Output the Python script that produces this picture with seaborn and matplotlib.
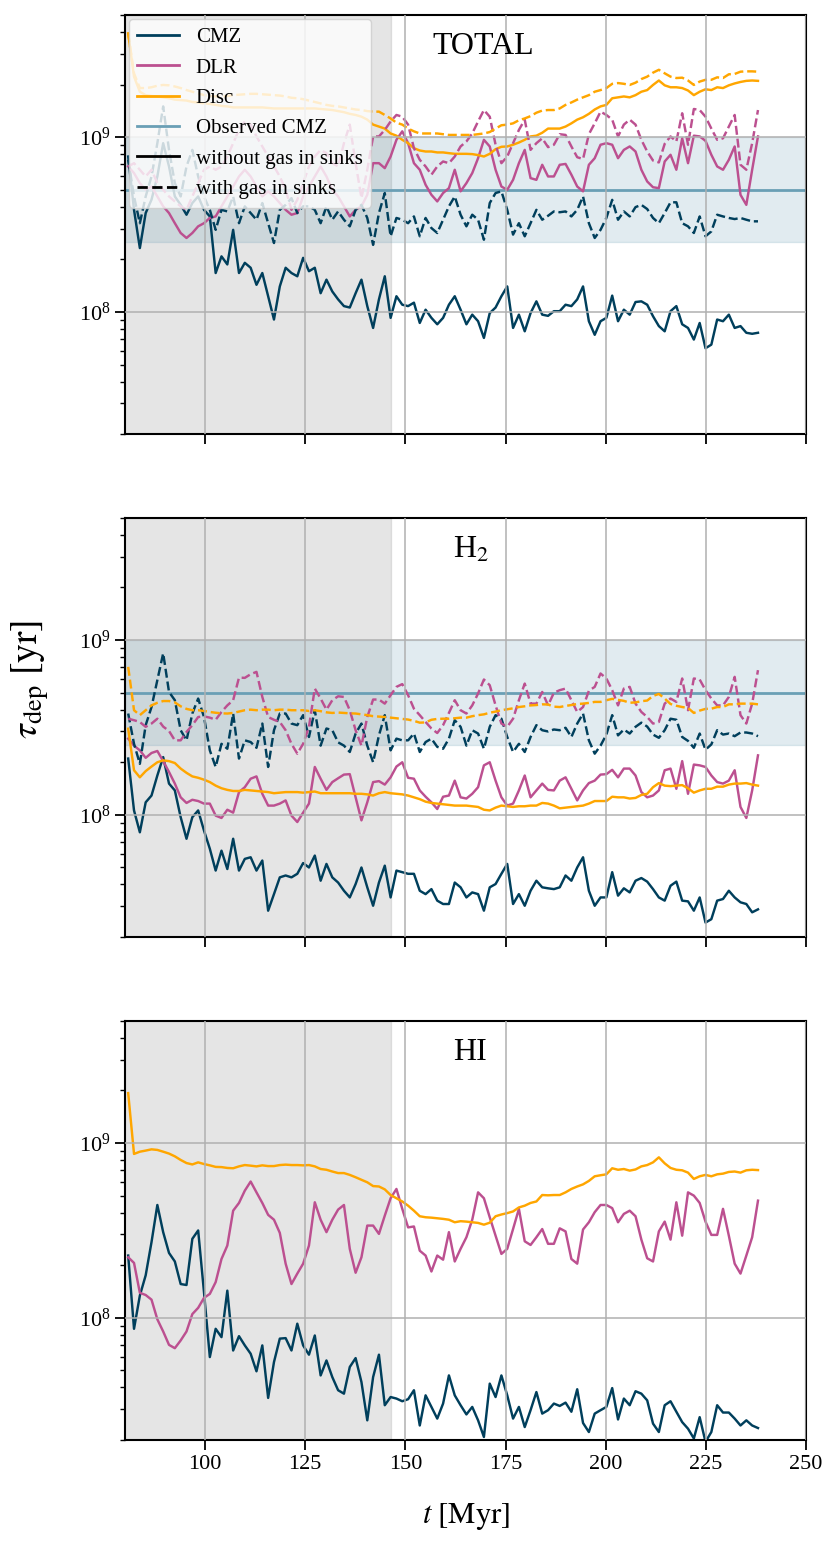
import numpy as np
import matplotlib
matplotlib.use("Agg")
import matplotlib.pyplot as plt
from matplotlib.lines import Line2D
import seaborn as sns

plt.rcParams["font.family"] = ["Liberation Serif", "DejaVu Serif"]
plt.rcParams["mathtext.fontset"] = "stix"

# snapshot times [Myr]
t = np.linspace(80.8, 238.0, 109)

# depletion times, in units of 1e8 yr
# TOTAL
tot_cmz = [7.75, 3.84, 2.32, 3.68, 4.39, 5.96, 9.24, 6.8, 4.58, 4.1,
           3.6, 4.2, 4.58, 3.84, 3.52, 1.67, 2.08, 1.87, 2.95, 1.67,
           1.91, 1.79, 1.43, 1.67, 1.23, 0.905, 1.40, 1.79, 1.67, 1.60,
           2.04, 1.71, 1.79, 1.28, 1.53, 1.31, 1.18, 1.08, 1.06, 1.28,
           1.53, 1.08, 0.81, 1.18, 1.60, 0.925, 1.23, 1.10, 1.08, 1.13,
           0.865, 1.03, 0.925, 0.85, 0.925, 1.10, 1.23, 1.03, 0.85, 0.965,
           0.885, 0.71, 0.985, 1.06, 1.23, 1.40, 0.81, 0.965, 0.775, 0.985,
           1.15, 0.965, 0.95, 1.01, 1.01, 1.10, 1.08, 1.18, 1.40, 0.885,
           0.74, 0.885, 0.925, 1.24, 0.885, 1.03, 0.965, 1.14, 1.15, 1.10,
           0.945, 0.83, 0.775, 1.01, 1.08, 0.85, 0.81, 0.695, 0.865, 0.62,
           0.65, 0.905, 0.885, 0.965, 0.81, 0.83, 0.76, 0.75, 0.76]
tot_cmz_sink = [7.42, 4.58, 3.22, 4.58, 5.96, 9.24, 15.0, 8.46, 5.46, 4.58,
                6.8, 8.46, 5.96, 4.58, 3.84, 2.95, 3.84, 3.76, 4.58, 3.22,
                4.02, 3.68, 3.37, 4.2, 3.22, 2.48, 3.84, 4.1, 4.48, 3.68,
                4.02, 4.02, 3.84, 3.22, 4.02, 3.37, 3.76, 3.37, 3.09, 3.84,
                4.1, 3.45, 2.42, 3.68, 4.79, 2.71, 3.45, 3.37, 3.22, 3.52,
                2.71, 3.45, 3.02, 2.83, 3.37, 4.02, 4.58, 3.6, 3.09, 3.6,
                3.37, 2.59, 4.2, 4.79, 4.9, 3.84, 2.77, 3.22, 2.71, 3.22,
                3.84, 3.37, 3.55, 3.76, 3.72, 3.76, 3.52, 3.84, 4.58, 3.22,
                2.65, 2.95, 3.45, 4.38, 3.37, 3.76, 3.52, 3.98, 4.1, 3.88,
                3.45, 3.22, 3.68, 4.24, 4.24, 3.22, 3.09, 2.83, 3.52, 2.71,
                2.89, 3.6, 3.52, 3.45, 3.4, 3.45, 3.37, 3.3, 3.3]
tot_dlr = [6.8, 6.23, 5.46, 5.0, 5.22, 4.58, 4.02, 3.68, 3.22, 2.83,
           2.65, 2.83, 3.09, 3.22, 3.45, 3.52, 4.02, 4.58, 5.22, 5.96,
           6.51, 5.96, 5.22, 4.58, 4.9, 4.58, 4.2, 3.84, 3.6, 3.68,
           4.58, 5.22, 5.96, 6.8, 5.96, 5.0, 4.58, 4.02, 3.52, 3.84,
           4.02, 4.68, 7.1, 7.1, 6.65, 7.75, 9.66, 10.8, 9.24, 7.1,
           6.51, 5.34, 4.68, 4.29, 4.79, 5.11, 6.51, 4.9, 5.46, 6.23,
           7.58, 9.66, 8.85, 6.51, 5.22, 5.0, 5.7, 7.1, 8.46, 5.83,
           5.7, 6.95, 5.96, 5.96, 6.95, 7.03, 6.1, 5.22, 4.9, 6.95,
           7.58, 9.05, 9.24, 9.05, 7.58, 8.46, 8.85, 8.28, 6.51, 5.58,
           5.17, 5.11, 7.26, 7.93, 6.51, 9.85, 7.1, 10.2, 10.1, 9.53,
           7.93, 6.8, 6.51, 7.42, 8.85, 4.68, 4.1, 6.51, 10.1]
tot_dlr_sink = [6.8, 7.1, 6.51, 5.96, 6.51, 5.46, 5.0, 4.58, 4.29, 4.02,
                3.84, 4.58, 5.46, 6.51, 6.8, 6.51, 6.8, 7.75, 9.24, 11.0,
                12.3, 11.8, 10.1, 8.85, 7.75, 6.8, 5.96, 5.0, 3.84, 4.38,
                5.46, 6.8, 7.75, 8.46, 8.1, 7.1, 6.8, 9.24, 11.8, 7.1,
                4.48, 6.51, 10.1, 10.1, 11.0, 12.3, 13.4, 13.1, 11.8, 8.65,
                7.42, 6.8, 6.1, 6.8, 7.26, 7.1, 7.75, 8.85, 9.45, 10.5,
                12.3, 14.3, 13.1, 9.05, 7.1, 7.75, 9.24, 11.0, 12.6, 8.46,
                9.24, 9.85, 8.77, 9.05, 10.4, 10.3, 8.85, 7.68, 7.5, 10.4,
                12.0, 14.0, 13.4, 12.6, 10.1, 11.8, 12.6, 11.8, 9.66, 8.28,
                7.35, 7.17, 9.16, 10.1, 9.45, 13.7, 9.05, 14.5, 14.3, 13.1,
                11.2, 9.66, 9.85, 11.5, 13.4, 6.95, 6.51, 9.24, 14.3]
tot_disc = [39.3, 22.2, 18.2, 17.4, 17.2, 17.1, 16.9, 16.7, 16.4, 16.3,
            16.2, 15.9, 15.8, 15.6, 15.5, 15.3, 15.1, 15.0, 14.8, 14.8,
            14.8, 14.8, 14.8, 14.8, 14.7, 14.6, 14.6, 14.6, 14.6, 14.6,
            14.6, 14.6, 14.6, 14.5, 14.4, 14.3, 14.1, 13.9, 13.6, 13.4,
            13.1, 12.6, 11.8, 11.5, 11.2, 10.5, 10.2, 9.66, 9.24, 8.65,
            8.39, 8.28, 8.28, 8.18, 8.18, 8.1, 8.03, 8.03, 8.03, 8.0,
            7.9, 7.75, 8.03, 8.54, 8.81, 8.85, 9.05, 9.32, 9.66, 10.1,
            10.2, 10.6, 11.2, 11.2, 11.2, 11.5, 12.0, 12.6, 13.0, 13.6,
            14.4, 15.0, 15.3, 16.7, 16.9, 17.1, 16.9, 17.4, 18.2, 18.6,
            19.9, 21.1, 19.8, 19.3, 19.3, 19.1, 18.5, 17.4, 18.2, 18.8,
            18.6, 19.3, 19.1, 19.8, 20.3, 20.7, 21.0, 21.1, 21.0]
tot_disc_sink = [39.3, 23.2, 19.1, 19.1, 19.3, 19.7, 19.9, 19.8, 19.5, 19.1,
                 18.6, 18.2, 17.8, 17.4, 17.2, 17.1, 17.1, 17.2, 17.4, 17.5,
                 17.6, 17.7, 17.7, 17.6, 17.5, 17.4, 17.3, 17.1, 16.8, 16.7,
                 16.5, 16.2, 15.9, 15.6, 15.3, 15.1, 15.0, 14.8, 14.6, 14.4,
                 14.3, 14.1, 14.0, 14.0, 13.4, 12.8, 12.1, 11.8, 11.2, 10.8,
                 10.5, 10.5, 10.5, 10.5, 10.4, 10.3, 10.3, 10.3, 10.3, 10.3,
                 10.4, 10.5, 10.7, 11.2, 11.7, 11.8, 12.0, 12.5, 12.8, 13.2,
                 13.8, 14.2, 14.3, 14.3, 14.6, 15.3, 15.8, 16.4, 16.9, 17.4,
                 18.2, 18.6, 19.1, 20.2, 20.4, 20.2, 19.9, 20.5, 21.5, 22.2,
                 23.4, 24.3, 23.2, 22.2, 21.8, 21.9, 21.1, 19.9, 20.8, 21.3,
                 21.3, 22.0, 21.8, 22.9, 23.0, 23.7, 23.8, 23.8, 23.7]

# H2
h2_cmz = [2.10, 1.06, 0.795, 1.18, 1.29, 1.68, 2.14, 1.51, 1.38, 0.97,
          0.73, 0.97, 1.06, 0.813, 0.64, 0.48, 0.624, 0.49, 0.73, 0.48,
          0.56, 0.572, 0.48, 0.548, 0.283, 0.352, 0.439, 0.45, 0.439, 0.46,
          0.53, 0.5, 0.585, 0.42, 0.524, 0.439, 0.41, 0.368, 0.337, 0.402,
          0.50, 0.385, 0.302, 0.41, 0.512, 0.337, 0.48, 0.47, 0.46, 0.46,
          0.368, 0.352, 0.376, 0.323, 0.309, 0.309, 0.41, 0.385, 0.337, 0.36,
          0.352, 0.283, 0.385, 0.402, 0.46, 0.524, 0.309, 0.352, 0.302, 0.368,
          0.42, 0.385, 0.38, 0.376, 0.385, 0.45, 0.42, 0.50, 0.572, 0.368,
          0.302, 0.337, 0.337, 0.47, 0.345, 0.38, 0.36, 0.42, 0.435, 0.415,
          0.376, 0.337, 0.323, 0.393, 0.415, 0.323, 0.32, 0.283, 0.337, 0.242,
          0.253, 0.323, 0.33, 0.368, 0.337, 0.316, 0.309, 0.277, 0.288]
h2_cmz_sink = [3.80, 2.55, 1.96, 3.26, 4.14, 5.9, 8.4, 5.05, 4.53, 3.05,
               2.67, 3.80, 4.63, 3.63, 2.34, 1.88, 2.55, 2.39, 3.80, 2.10,
               2.67, 2.61, 2.42, 3.33, 1.88, 3.05, 3.80, 3.80, 3.33, 3.26,
               3.72, 2.79, 3.97, 2.49, 3.12, 3.05, 2.6, 2.49, 2.29, 2.92,
               3.33, 2.49, 2.0, 2.85, 3.72, 2.34, 2.73, 2.67, 2.67, 2.92,
               2.29, 2.61, 2.73, 2.45, 2.39, 2.73, 3.48, 3.19, 2.49, 3.05,
               2.92, 2.39, 3.19, 3.72, 3.55, 2.79, 2.29, 2.55, 2.29, 2.79,
               3.26, 3.05, 3.0, 3.08, 3.05, 3.15, 2.79, 3.33, 3.80, 2.67,
               2.24, 2.49, 2.88, 3.72, 2.85, 3.08, 2.92, 3.19, 3.37, 3.2,
               2.88, 2.76, 3.05, 3.55, 3.5, 2.79, 2.65, 2.42, 2.92, 2.36,
               2.53, 3.05, 2.88, 2.92, 2.82, 2.96, 2.96, 2.92, 2.82]
h2_dlr = [2.73, 2.49, 2.34, 2.12, 2.26, 2.32, 2.03, 1.76, 1.51, 1.26,
          1.17, 1.22, 1.20, 1.16, 1.16, 0.99, 0.96, 1.07, 1.03, 1.35,
          1.44, 1.61, 1.66, 1.32, 1.13, 1.13, 1.16, 1.21, 0.99, 0.91,
          1.03, 1.16, 1.88, 1.61, 1.39, 1.54, 1.62, 1.70, 1.71, 1.26,
          0.93, 1.18, 1.54, 1.56, 1.49, 1.64, 1.89, 2.0, 1.63, 1.61,
          1.38, 1.27, 1.18, 1.08, 1.27, 1.29, 1.57, 1.26, 1.24, 1.32,
          1.44, 1.92, 2.0, 1.57, 1.26, 1.13, 1.16, 1.38, 1.68, 1.26,
          1.38, 1.51, 1.39, 1.38, 1.57, 1.64, 1.41, 1.21, 1.38, 1.52,
          1.57, 1.70, 1.71, 1.81, 1.64, 1.84, 1.84, 1.68, 1.35, 1.26,
          1.29, 1.38, 1.80, 1.84, 1.41, 2.03, 1.32, 1.94, 1.92, 1.88,
          1.68, 1.54, 1.51, 1.57, 1.80, 1.11, 0.96, 1.38, 2.19]
h2_dlr_sink = [3.55, 3.48, 3.40, 3.19, 3.33, 3.55, 3.2, 3.02, 2.67, 2.67,
               2.98, 3.26, 3.63, 3.66, 3.6, 3.5, 3.88, 4.23, 4.53, 6.1,
               6.08, 6.38, 6.58, 4.73, 3.63, 3.5, 3.40, 3.05, 2.55, 2.24,
               2.55, 3.19, 5.28, 4.63, 4.0, 4.53, 4.77, 4.73, 3.97, 3.05,
               2.49, 3.63, 4.57, 4.57, 4.33, 4.84, 5.4, 5.6, 4.84, 4.05,
               3.72, 3.40, 3.12, 2.94, 3.26, 3.83, 4.53, 3.97, 3.80, 4.23,
               4.95, 5.95, 5.52, 4.23, 3.33, 3.19, 3.55, 4.53, 5.64, 4.33,
               4.33, 5.05, 4.23, 5.0, 5.17, 5.28, 4.53, 3.88, 4.14, 5.13,
               5.4, 6.44, 6.03, 5.17, 4.23, 5.28, 5.4, 4.33, 3.88, 3.63,
               3.33, 3.40, 4.33, 4.63, 4.43, 6.03, 3.97, 6.03, 5.95, 5.17,
               4.63, 4.23, 4.23, 4.73, 6.16, 3.72, 3.33, 4.33, 6.73]
h2_disc = [3.11, 1.80, 1.64, 1.78, 1.89, 2.0, 2.05, 2.03, 1.98, 1.84,
           1.74, 1.66, 1.63, 1.59, 1.54, 1.47, 1.42, 1.39, 1.37, 1.37,
           1.39, 1.38, 1.37, 1.36, 1.35, 1.33, 1.34, 1.35, 1.35, 1.35,
           1.34, 1.35, 1.36, 1.33, 1.33, 1.33, 1.33, 1.33, 1.33, 1.32,
           1.32, 1.31, 1.29, 1.33, 1.35, 1.33, 1.32, 1.31, 1.29, 1.26,
           1.23, 1.19, 1.17, 1.16, 1.15, 1.14, 1.13, 1.13, 1.13, 1.12,
           1.11, 1.07, 1.06, 1.10, 1.13, 1.12, 1.11, 1.12, 1.12, 1.13,
           1.13, 1.17, 1.16, 1.13, 1.09, 1.10, 1.11, 1.12, 1.13, 1.16,
           1.20, 1.20, 1.20, 1.27, 1.26, 1.26, 1.24, 1.25, 1.30, 1.32,
           1.44, 1.52, 1.47, 1.46, 1.47, 1.48, 1.42, 1.34, 1.38, 1.41,
           1.41, 1.45, 1.45, 1.49, 1.51, 1.51, 1.52, 1.49, 1.47]
h2_disc_sink = [7.03, 3.97, 3.72, 3.97, 4.23, 4.38, 4.48, 4.48, 4.40, 4.18,
                4.04, 3.97, 3.97, 3.93, 3.88, 3.84, 3.81, 3.80, 3.83, 3.90,
                3.97, 4.0, 3.97, 4.0, 4.0, 3.97, 4.0, 4.0, 3.97, 3.97,
                3.97, 3.93, 3.97, 3.92, 3.86, 3.83, 3.85, 3.83, 3.81, 3.80,
                3.76, 3.72, 3.67, 3.65, 3.63, 3.60, 3.57, 3.54, 3.51, 3.45,
                3.37, 3.38, 3.50, 3.54, 3.55, 3.55, 3.57, 3.60, 3.60, 3.67,
                3.72, 3.76, 3.84, 3.90, 3.97, 4.02, 4.07, 4.14, 4.18, 4.23,
                4.25, 4.29, 4.28, 4.16, 4.14, 4.2, 4.25, 4.31, 4.33, 4.37,
                4.43, 4.43, 4.53, 4.61, 4.55, 4.49, 4.38, 4.40, 4.47, 4.51,
                4.79, 4.92, 4.63, 4.31, 4.21, 4.14, 4.09, 3.83, 3.95, 4.04,
                4.05, 4.14, 4.14, 4.29, 4.29, 4.33, 4.33, 4.33, 4.29]

# HI
hi_cmz = [2.27, 0.865, 1.34, 1.75, 2.71, 4.42, 3.09, 2.35, 2.10, 1.56,
          1.54, 2.83, 3.16, 1.40, 0.596, 0.865, 0.775, 1.43, 0.65, 0.785,
          0.695, 0.623, 0.494, 0.695, 0.348, 0.558, 0.76, 0.765, 0.65, 0.925,
          0.695, 0.615, 0.792, 0.468, 0.57, 0.458, 0.385, 0.368, 0.523, 0.588,
          0.429, 0.259, 0.458, 0.615, 0.316, 0.352, 0.345, 0.333, 0.342, 0.385,
          0.242, 0.36, 0.309, 0.265, 0.323, 0.468, 0.36, 0.316, 0.28, 0.309,
          0.259, 0.208, 0.42, 0.352, 0.468, 0.36, 0.265, 0.309, 0.237, 0.296,
          0.376, 0.283, 0.296, 0.323, 0.313, 0.327, 0.29, 0.39, 0.25, 0.222,
          0.283, 0.296, 0.309, 0.396, 0.262, 0.345, 0.316, 0.38, 0.368, 0.337,
          0.248, 0.222, 0.316, 0.333, 0.29, 0.253, 0.232, 0.204, 0.27, 0.195,
          0.222, 0.316, 0.287, 0.287, 0.265, 0.242, 0.259, 0.242, 0.234]
hi_dlr = [2.22, 2.06, 1.39, 1.35, 1.27, 0.98, 0.835, 0.70, 0.67, 0.742,
          0.835, 1.05, 1.14, 1.30, 1.37, 1.60, 2.17, 2.59, 4.1, 4.54,
          5.34, 6.02, 5.22, 4.54, 3.88, 3.64, 3.06, 2.04, 1.56, 1.79,
          2.04, 2.59, 4.58, 3.64, 3.09, 3.64, 4.16, 4.42, 2.48, 1.81,
          2.22, 3.37, 3.37, 3.02, 3.84, 4.83, 5.46, 4.2, 3.29, 3.33,
          2.42, 2.27, 1.84, 2.27, 2.15, 3.09, 2.10, 2.48, 2.89, 3.64,
          5.22, 4.83, 3.76, 2.95, 2.32, 2.48, 3.22, 4.2, 2.74, 2.61,
          2.89, 3.22, 2.65, 2.65, 3.25, 3.12, 2.17, 2.04, 3.2, 3.52,
          4.02, 4.42, 4.42, 4.24, 3.52, 3.93, 4.1, 3.81, 2.8, 2.19,
          2.10, 3.12, 3.55, 2.8, 4.58, 2.95, 5.22, 5.0, 4.54, 3.55,
          2.98, 2.98, 4.2, 2.95, 2.04, 1.79, 2.27, 2.89, 4.68]
hi_disc = [19.3, 8.66, 8.92, 9.05, 9.2, 9.13, 8.92, 8.7, 8.39, 8.0,
           7.68, 7.54, 7.75, 7.58, 7.45, 7.3, 7.28, 7.2, 7.17, 7.35,
           7.48, 7.42, 7.35, 7.45, 7.38, 7.38, 7.48, 7.52, 7.48, 7.48,
           7.45, 7.48, 7.35, 7.1, 7.03, 6.87, 6.73, 6.73, 6.57, 6.37,
           6.16, 5.96, 5.67, 5.64, 5.43, 5.04, 4.83, 4.63, 4.38, 4.1,
           3.81, 3.76, 3.74, 3.71, 3.68, 3.64, 3.52, 3.57, 3.55, 3.52,
           3.49, 3.41, 3.5, 3.81, 3.9, 3.97, 4.06, 4.28, 4.38, 4.54,
           4.63, 5.04, 5.02, 5.04, 5.04, 5.22, 5.46, 5.64, 5.8, 6.07,
           6.45, 6.54, 6.62, 7.17, 7.03, 7.1, 6.95, 7.06, 7.35, 7.48,
           7.75, 8.28, 7.65, 7.2, 7.03, 6.98, 6.77, 6.23, 6.45, 6.57,
           6.45, 6.62, 6.68, 6.83, 6.87, 6.77, 6.98, 7.03, 7.0]

# observed CMZ depletion time [yr]
obs_low, obs_mid, obs_high = 2.5e8, 5e8, 1e9
t_relax = 146.5

c_cmz = "#003f5c"
c_dlr = "#bc5090"
c_disc = "#ffa600"
c_obs = "#6a9fb5"

panels = [
    ("TOTAL", 0.526, [tot_cmz, tot_dlr, tot_disc], [tot_cmz_sink, tot_dlr_sink, tot_disc_sink], True),
    ("H$_2$", 0.508, [h2_cmz, h2_dlr, h2_disc], [h2_cmz_sink, h2_dlr_sink, h2_disc_sink], True),
    ("HI", 0.506, [hi_cmz, hi_dlr, hi_disc], None, False),
]
colors = [c_cmz, c_dlr, c_disc]

fig, axes = plt.subplots(3, 1, figsize=(8.31, 15.48), dpi=100, sharex=True)
fig.subplots_adjust(left=0.1504, right=0.970, top=0.9903, bottom=0.0698, hspace=0.2)

for ax, (name, xt, solid, dashed, obs) in zip(axes, panels):
    ax.axvspan(70, t_relax, color="gray", alpha=0.2, zorder=0)
    if obs:
        ax.axhspan(obs_low, obs_high, color=c_obs, alpha=0.2, zorder=0.5)
        ax.axhline(obs_mid, color=c_obs, lw=2, zorder=0.6)
    for vals, col in zip(solid, colors):
        sns.lineplot(x=t, y=np.array(vals) * 1e8, color=col, lw=1.75, ax=ax)
    if dashed is not None:
        for vals, col in zip(dashed, colors):
            sns.lineplot(x=t, y=np.array(vals) * 1e8, color=col, lw=1.75,
                         linestyle="--", ax=ax)
    ax.set_yscale("log")
    ax.set_ylim(2e7, 5e9)
    ax.set_xlim(80, 250)
    ax.set_xticks([100, 125, 150, 175, 200, 225, 250])
    ax.grid(True, which="major", color="#b0b0b0", lw=1.1)
    ax.set_axisbelow(False)
    for sp in ax.spines.values():
        sp.set_linewidth(1.5)
    ax.tick_params(which="major", length=7, width=1.3, labelsize=16)
    ax.tick_params(which="minor", length=3.5, width=1.0)
    ax.set_ylabel("")
    ax.text(xt, 0.924, name, transform=ax.transAxes, fontsize=23,
            ha="center", va="center")

handles = [
    Line2D([], [], color=c_cmz, lw=2, label="CMZ"),
    Line2D([], [], color=c_dlr, lw=2, label="DLR"),
    Line2D([], [], color=c_disc, lw=2, label="Disc"),
    Line2D([], [], color=c_obs, lw=2, label="Observed CMZ"),
    Line2D([], [], color="black", lw=2, label="without gas in sinks"),
    Line2D([], [], color="black", lw=2, ls="--", label="with gas in sinks"),
]
axes[0].legend(handles=handles, loc="upper left", fontsize=15,
               framealpha=0.8, borderaxespad=0.2, labelspacing=0.52)

axes[2].set_xlabel(r"$t\ [\mathrm{Myr}]$", fontsize=22, labelpad=20)
fig.text(0.037, 1 - 680 / 1548, r"$\tau_{\mathrm{dep}}\ [\mathrm{yr}]$",
         rotation=90, fontsize=27, ha="center", va="center")

fig.savefig("out.png", dpi=100)
